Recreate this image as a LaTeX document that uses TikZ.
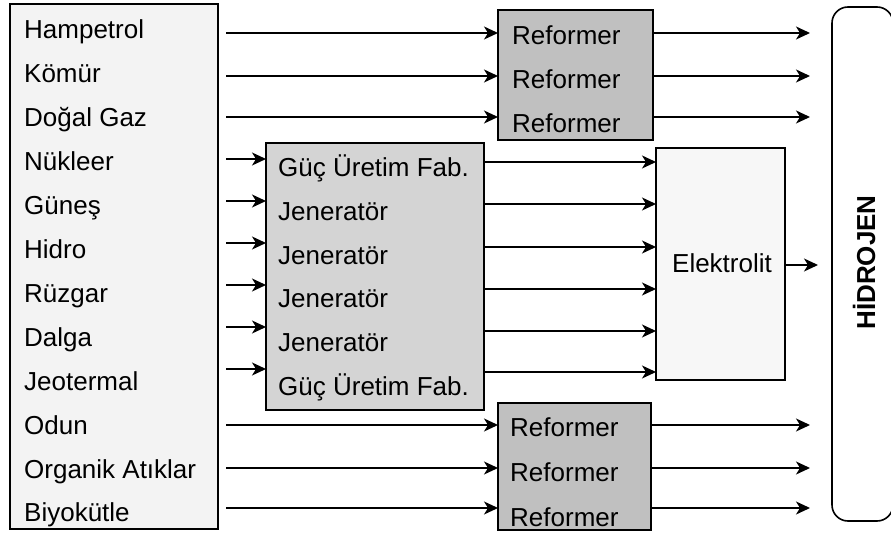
\documentclass[tikz,border=0pt]{standalone}
\usepackage{fontspec}
\setmainfont{Liberation Sans}
\usetikzlibrary{arrows.meta,calc}
\definecolor{panelfill}{HTML}{F3F3F3}
\definecolor{reffill}{HTML}{C0C0C0}
\definecolor{genfill}{HTML}{D4D4D4}
\definecolor{elfill}{HTML}{F7F7F7}
\begin{document}
\begin{tikzpicture}[x=1pt,y=-1pt,
  box/.style={draw, line width=1.6pt, inner sep=0pt, outer sep=0pt, anchor=north west},
  lbl/.style={anchor=base west, inner sep=0pt, font=\fontsize{26}{30}\selectfont},
  arr/.style={line width=1.6pt, -{Stealth[length=14pt,width=13pt,inset=4pt]}},
]
\useasboundingbox (0,0) rectangle (891,534);

% boxes
\node[box, fill=panelfill, minimum width=208pt, minimum height=525pt] (src) at (10,4) {};
\node[box, fill=reffill, minimum width=155pt, minimum height=130pt] (reftop) at (498,10) {};
\node[box, fill=genfill, minimum width=218pt, minimum height=267pt] (gen) at (266,143) {};
\node[box, fill=elfill, minimum width=129pt, minimum height=232pt] (elec) at (656,148) {};
\node[box, fill=reffill, minimum width=153pt, minimum height=127pt] (refbot) at (498,403) {};
\node[box, rounded corners=16pt, minimum width=61pt, minimum height=514pt] (hyd) at (832,7) {};

% source labels
\foreach \t [count=\i from 0] in {Hampetrol,Kömür,Doğal Gaz,Nükleer,Güneş,Hidro,Rüzgar,Dalga,Jeotermal,Odun,Organik Atıklar,Biyokütle}
  \node[lbl] (s\i) at (24,39+43.9*\i) {\t};

% generator labels
\foreach \t [count=\i from 0] in {Güç Üretim Fab.,Jeneratör,Jeneratör,Jeneratör,Jeneratör,Güç Üretim Fab.}
  \node[lbl] (g\i) at (278,176.7+43.7*\i) {\t};

% reformer labels
\foreach \yy [count=\i] in {45,89,133}
  \node[lbl] (rt\i) at (512,\yy) {Reformer};
\foreach \yy [count=\i] in {436.7,481.7,526.7}
  \node[lbl] (rb\i) at (510,\yy) {Reformer};

\node[lbl, anchor=base] (eltxt) at (722,273) {Elektrolit};
\node[anchor=base, inner sep=0pt, rotate=90, font=\fontsize{26}{30}\selectfont\bfseries] (htxt) at (875,262.5) {HİDROJEN};

% fossil fuels through the upper reformers
\foreach \yy in {33,76,117} {
  \draw[arr] ($(src.east |- 0,\yy)+(8,0)$) -- (reftop.west |- 0,\yy);
  \draw[arr] (reftop.east |- 0,\yy) -- ($(hyd.west |- 0,\yy)+(-22,0)$);
}

% renewables into the generators
\foreach \yy in {159,201,243,285,327,369}
  \draw[arr] ($(src.east |- 0,\yy)+(8,0)$) -- (gen.west |- 0,\yy);

% generators into the electrolyser
\foreach \yy in {162,204,247,289,331,372}
  \draw[arr] (gen.east |- 0,\yy) -- (elec.west |- 0,\yy);

\draw[arr] (elec.east |- 0,265) -- ($(hyd.west |- 0,265)+(-14,0)$);

% biomass through the lower reformers
\foreach \yy in {425,468,508} {
  \draw[arr] ($(src.east |- 0,\yy)+(8,0)$) -- (refbot.west |- 0,\yy);
  \draw[arr] (refbot.east |- 0,\yy) -- ($(hyd.west |- 0,\yy)+(-22,0)$);
}
\end{tikzpicture}
\end{document}
